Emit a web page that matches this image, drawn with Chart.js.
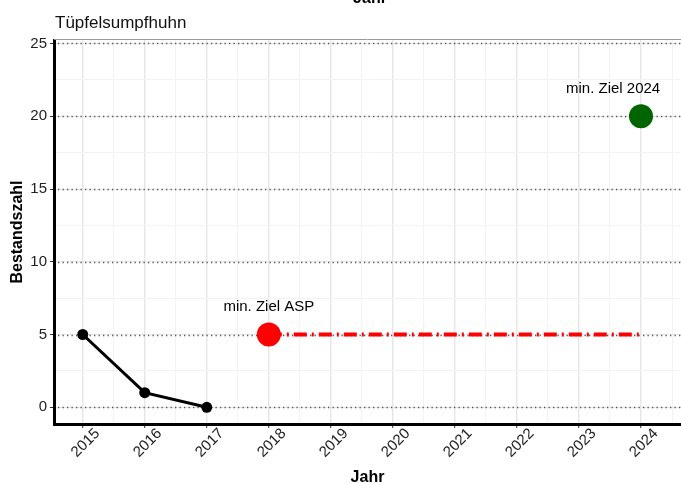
<!DOCTYPE html>
<html>
<head>
<meta charset="utf-8">
<script src="https://cdn.jsdelivr.net/npm/chart.js@4.4.0/dist/chart.umd.min.js"></script>
<style>
  html, body { margin: 0; padding: 0; background: #fff; }
  #wrap { width: 681px; height: 484px; position: relative; }
</style>
</head>
<body>
<div id="wrap"><canvas id="myChart"></canvas></div>
<script>
const chartTitle = 'Tüpfelsumpfhuhn'
const xTitle = 'Jahr'
const yTitle = 'Bestandszahl'

// counted birds
const countYears = [2015, 2016, 2017]
const counts = [5, 1, 0]

// targets
const aspYears = [2018]
const aspValues = [5]
const goalYears = [2024]
const goalValues = [20]
const targetLineYears = [2018, 2024]
const targetLineValues = [5, 5]

// axes
const xTicks = [2015, 2016, 2017, 2018, 2019, 2020, 2021, 2022, 2023, 2024]
const yTicks = [0, 5, 10, 15, 20, 25]

// text labels (data coordinates)
const noteTexts = ['min. Ziel ASP', 'min. Ziel 2024']
const noteX = [2018, 2023.55]
const noteY = [6.9, 21.9]

const FONT = '"Liberation Sans", Arial, Helvetica, sans-serif'

const toPoints = (xs, ys) => xs.map((x, i) => ({ x: x, y: ys[i] }))

const extras = {
  id: 'extras',
  beforeDatasetsDraw(chart) {
    const { ctx, chartArea, scales } = chart
    const y = scales.y
    ctx.save()
    // dotted reference lines
    ctx.strokeStyle = '#555'
    ctx.lineWidth = 1.3
    ctx.setLineDash([1.3, 3.2])
    yTicks.forEach(v => {
      const py = Math.round(y.getPixelForValue(v)) + 0.5
      ctx.beginPath()
      ctx.moveTo(chartArea.left + 4, py)
      ctx.lineTo(chartArea.right, py)
      ctx.stroke()
    })
    ctx.setLineDash([])
    // thin top border
    ctx.strokeStyle = '#999'
    ctx.lineWidth = 1
    ctx.beginPath()
    ctx.moveTo(chartArea.left, chartArea.top - 0.5)
    ctx.lineTo(chartArea.right, chartArea.top - 0.5)
    ctx.stroke()
    ctx.restore()
  },
  afterDraw(chart) {
    const { ctx, chartArea, scales } = chart
    const x = scales.x, y = scales.y
    ctx.save()
    // title
    ctx.fillStyle = '#111'
    ctx.font = '17px ' + FONT
    ctx.textAlign = 'left'
    ctx.textBaseline = 'alphabetic'
    ctx.fillText(chartTitle, chartArea.left + 1, 28)

    // leftover axis title from the chart above
    ctx.font = 'bold 16px ' + FONT
    ctx.textAlign = 'center'
    ctx.fillStyle = '#000'
    ctx.fillText(xTitle, 370, 2.5)

    // notes
    ctx.font = '15px ' + FONT
    ctx.fillStyle = '#000'
    ctx.textBaseline = 'middle'
    noteTexts.forEach((t, i) => {
      ctx.fillText(t, x.getPixelForValue(noteX[i]), y.getPixelForValue(noteY[i]))
    })

    // rotated year labels
    ctx.fillStyle = '#222'
    ctx.font = '15px ' + FONT
    xTicks.forEach(v => {
      ctx.save()
      ctx.translate(x.getPixelForValue(v) + 3, chartArea.bottom + 19)
      ctx.rotate(-Math.PI / 4)
      ctx.textAlign = 'center'
      ctx.textBaseline = 'middle'
      ctx.fillText(String(v), 0, 0)
      ctx.restore()
    })
    ctx.restore()
  }
}

const isMajorX = v => Math.abs(v - Math.round(v)) < 1e-6
const isMajorY = v => Math.abs(v % 5) < 1e-6

var config = {
  type: 'scatter',
  data: {
    datasets: [
      {
        label: 'Ziel Linie',
        data: toPoints(targetLineYears, targetLineValues),
        showLine: true,
        borderColor: '#ff0000',
        borderWidth: 4,
        borderDash: [13, 5, 2, 5],
        pointRadius: 0,
        order: 3
      },
      {
        label: 'Bestand',
        data: toPoints(countYears, counts),
        showLine: true,
        borderColor: '#000',
        backgroundColor: '#000',
        borderWidth: 3,
        pointRadius: 5.5,
        pointBorderWidth: 0,
        order: 2
      },
      {
        label: 'min. Ziel ASP',
        data: toPoints(aspYears, aspValues),
        backgroundColor: '#ff0000',
        borderColor: '#ff0000',
        pointRadius: 12,
        pointBorderWidth: 0,
        order: 1
      },
      {
        label: 'min. Ziel 2024',
        data: toPoints(goalYears, goalValues),
        backgroundColor: '#006400',
        borderColor: '#006400',
        pointRadius: 12,
        pointBorderWidth: 0,
        order: 1
      }
    ]
  },
  options: {
    responsive: true,
    maintainAspectRatio: false,
    animation: false,
    layout: { autoPadding: false, padding: { top: 40, left: 0, right: 0, bottom: 0 } },
    plugins: {
      legend: { display: false },
      tooltip: { enabled: false }
    },
    scales: {
      x: {
        type: 'linear',
        min: 2014.537,
        max: 2024.645,
        afterBuildTicks: s => {
          const t = []
          xTicks.forEach(v => { t.push({ value: v }); t.push({ value: v + 0.5 }) })
          s.ticks = t
        },
        afterFit: s => { s.height = 60 },
        ticks: { display: false },
        grid: {
          color: c => isMajorX(c.tick.value) ? '#e6e6e6' : '#f3f3f3',
          lineWidth: c => isMajorX(c.tick.value) ? 1.4 : 1,
          tickColor: c => isMajorX(c.tick.value) ? '#333' : 'rgba(0,0,0,0)',
          tickLength: 4,
          tickWidth: 1
        },
        border: { display: true, color: '#000', width: 3 },
        title: {
          display: true,
          text: xTitle,
          color: '#000',
          font: { family: FONT, size: 16, weight: 'bold', lineHeight: 0.8 },
          padding: 0
        }
      },
      y: {
        type: 'linear',
        min: -1.15,
        max: 25.24,
        afterBuildTicks: s => {
          const t = []
          yTicks.forEach(v => { t.push({ value: v }); if (v < 25) t.push({ value: v + 2.5 }) })
          s.ticks = t
        },
        afterFit: s => { s.width = 54 },
        ticks: {
          color: '#222',
          padding: 3,
          font: { family: FONT, size: 15 },
          callback: v => isMajorY(v) ? String(v) : ''
        },
        grid: {
          color: c => isMajorY(c.tick.value) ? '#e6e6e6' : '#f3f3f3',
          lineWidth: 1,
          tickColor: c => isMajorY(c.tick.value) ? '#333' : 'rgba(0,0,0,0)',
          tickLength: 4,
          tickWidth: 1
        },
        border: { display: true, color: '#000', width: 3 },
        title: {
          display: true,
          text: yTitle,
          color: '#000',
          font: { family: FONT, size: 16, weight: 'bold' },
          padding: { top: 8, bottom: 0 }
        }
      }
    }
  },
  plugins: [extras]
}

var ctx = document.getElementById('myChart').getContext('2d')
var myChart = new Chart(ctx, config)
</script>
</body>
</html>
